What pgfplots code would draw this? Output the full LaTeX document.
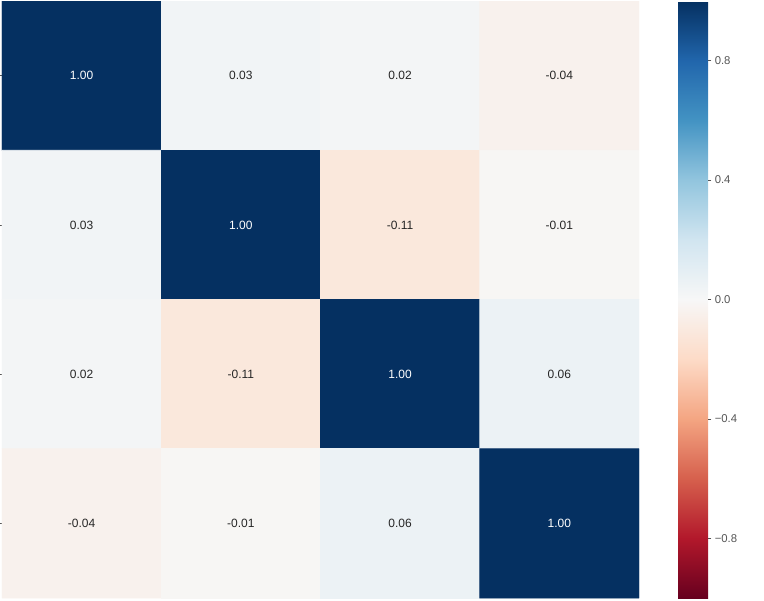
\documentclass[border=0pt]{standalone}
\usepackage{pgfplots}
\pgfplotsset{compat=1.18}
\usepackage{fontspec}
\setmainfont{Liberation Sans}
\definecolor{celltext}{HTML}{262626}
\definecolor{ticklab}{HTML}{555555}
\pgfplotsset{
  colormap={RdBu}{
    rgb255=(103,0,31) rgb255=(178,24,43) rgb255=(214,96,77) rgb255=(244,165,130)
    rgb255=(253,219,199) rgb255=(247,247,247) rgb255=(209,229,240) rgb255=(146,197,222)
    rgb255=(67,147,195) rgb255=(33,102,172) rgb255=(5,48,97)
  }
}
\begin{document}
\begin{tikzpicture}
\path[use as bounding box] (-1.5pt,-1.5pt) rectangle (571.5pt,448.5pt);
\begin{axis}[
  at={(0,0)}, anchor=south west,
  scale only axis,
  width=477.75pt, height=447.75pt,
  xmin=-0.5, xmax=3.5, ymin=-0.5, ymax=3.5,
  y dir=reverse,
  enlargelimits=false,
  axis line style={draw=none},
  xtick=\empty,
  ytick={0,1,2,3}, yticklabels={},
  ytick pos=left, tick align=outside,
  major tick length=1.5pt,
  tick style={color=ticklab, line width=0.4pt},
  colormap name=RdBu,
  point meta min=-1, point meta max=1,
  colorbar right,
  colorbar/width=22.5pt,
  colorbar style={
    at={(parent axis.north east)}, anchor=north west,
    xshift=20.75pt,
    height=447.75pt,
    axis line style={draw=none},
    ytick={-0.8,-0.4,0,0.4,0.8},
    yticklabels={−0.8,−0.4,0.0,0.4,0.8},
    ytick pos=right, tick align=outside,
    major tick length=2.5pt,
    tick style={color=ticklab, line width=0.5pt},
    yticklabel style={font=\fontsize{8.5}{10}\selectfont, text=ticklab, xshift=-1pt},
  },
]
\addplot[matrix plot*, mesh/cols=4, point meta=explicit, draw=none] table[meta=c] {
x y c
0 0 1.00
1 0 0.03
2 0 0.02
3 0 -0.04
0 1 0.03
1 1 1.00
2 1 -0.11
3 1 -0.01
0 2 0.02
1 2 -0.11
2 2 1.00
3 2 0.06
0 3 -0.04
1 3 -0.01
2 3 0.06
3 3 1.00
};
% off-diagonal labels (dark text)
\addplot[only marks, mark=none, point meta=explicit,
  nodes near coords={\pgfmathprintnumber[fixed,fixed zerofill,precision=2,assume math mode=true]{\pgfplotspointmeta}},
  every node near coord/.append style={anchor=center, text=celltext, font=\fontsize{9}{10}\selectfont}]
  table[meta=c] {
x y c
1 0 0.03
2 0 0.02
3 0 -0.04
0 1 0.03
2 1 -0.11
3 1 -0.01
0 2 0.02
1 2 -0.11
3 2 0.06
0 3 -0.04
1 3 -0.01
2 3 0.06
};
% diagonal labels (white text)
\addplot[only marks, mark=none, point meta=explicit,
  nodes near coords={\pgfmathprintnumber[fixed,fixed zerofill,precision=2,assume math mode=true]{\pgfplotspointmeta}},
  every node near coord/.append style={anchor=center, text=white, font=\fontsize{9}{10}\selectfont}]
  table[meta=c] {
x y c
0 0 1.00
1 1 1.00
2 2 1.00
3 3 1.00
};
\end{axis}
\end{tikzpicture}
\end{document}
